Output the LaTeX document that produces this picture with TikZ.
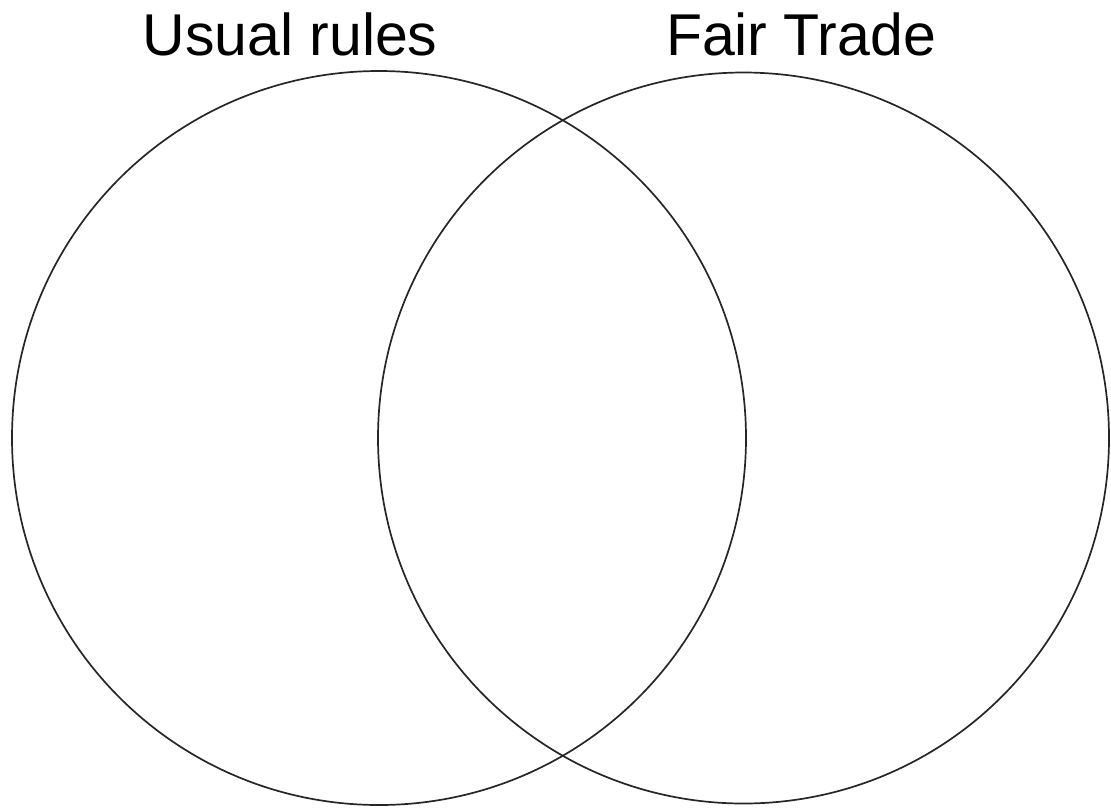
\documentclass[tikz,border=0pt]{standalone}
\usepackage{fontspec}
\setmainfont{Liberation Sans}
\begin{document}
\begin{tikzpicture}[x=1pt,y=-1pt,
  setcircle/.style={circle,draw=black!85,line width=1.7pt,inner sep=0pt,outer sep=0pt},
  setlabel/.style={anchor=base,inner sep=0pt,font=\fontsize{59}{66}\selectfont}]
\useasboundingbox (0,0) rectangle (1111,807);
\node[setcircle,minimum size=734pt] (usual) at (379,438) {};
\node[setcircle,minimum size=731pt] (fair) at (743.5,438) {};
\node[setlabel] (usuallabel) at (290,55) {Usual rules};
\node[setlabel] (fairlabel) at (801,55) {Fair Trade};
\end{tikzpicture}
\end{document}
